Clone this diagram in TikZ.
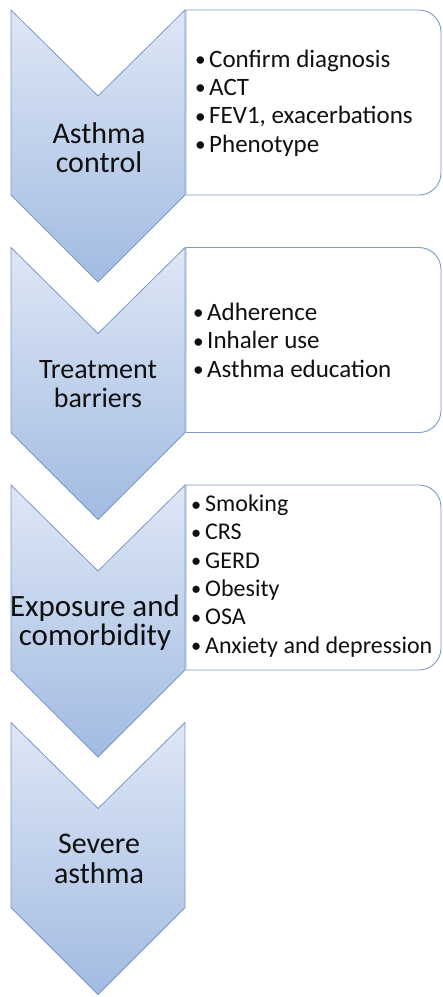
\documentclass[tikz,border=0pt]{standalone}
\usepackage{fontspec}
\setmainfont{Carlito}
\definecolor{chevline}{HTML}{7C98C8}
\definecolor{chevtop}{HTML}{DEE7F5}
\definecolor{chevbot}{HTML}{A2BBE2}
\definecolor{boxline}{HTML}{7E9BC8}
\definecolor{ink}{HTML}{101010}
\newcommand{\bul}{\makebox[13pt][l]{\hspace{-1pt}\raisebox{0.5pt}{\scalebox{0.85}{•}}}}
\newcommand{\chevron}[2]{%
  \path[chev] (11,#1) coordinate (#2tl) -- (98,#1+86) coordinate (#2n)
    -- (185,#1) coordinate (#2tr) -- (185,#1+185) coordinate (#2br)
    -- (98,#1+272) coordinate (#2tip) -- (11,#1+185) coordinate (#2bl) -- cycle;}
\newcommand{\infobox}[2]{%
  \path[infobox] (186,#1) -- (419,#1) arc[start angle=-90,end angle=0,radius=22]
    -- (441,#1+163) arc[start angle=0,end angle=90,radius=22] -- (186,#1+185) -- cycle;
  \coordinate (#2) at (186,#1);}
\begin{document}
\begin{tikzpicture}[x=1pt,y=-1pt,
  chev/.style={draw=chevline, line width=0.8pt, top color=chevtop, bottom color=chevbot},
  infobox/.style={draw=boxline, line width=0.9pt, fill=white},
  chevlabel/.style={align=center, text=ink, anchor=base, inner sep=0pt},
  bullets/.style={font=\fontsize{25}{28.3}\selectfont, align=left, text=ink, anchor=base west, inner sep=0pt}]
\useasboundingbox (0,0) rectangle (443,997);
\fill[white] (0,0) rectangle (443,997);
% stage 1
\chevron{10}{c1}
\infobox{10}{b1}
% stage 2
\chevron{247.5}{c2}
\infobox{247.5}{b2}
% stage 3
\chevron{485}{c3}
\infobox{485}{b3}
% stage 4
\chevron{722.5}{c4}
% labels (anchor base = last line baseline)
\node[chevlabel, font=\fontsize{30}{29}\selectfont] (l1) at (99,172) {Asthma\\control};
\node[chevlabel, font=\fontsize{28}{29}\selectfont] (l2) at (98,407) {Treatment\\barriers};
\node[chevlabel, font=\fontsize{31}{28.5}\selectfont] (l3) at (95,645) {Exposure and\\comorbidity};
\node[chevlabel, font=\fontsize{30}{30}\selectfont] (l4) at (99,883) {Severe\\asthma};
% bullets
\node[bullets] (t1) at (196,152) {\bul Confirm diagnosis\\\bul ACT\\\bul FEV1, exacerbations\\\bul Phenotype};
\node[bullets] (t2) at (194,377) {\bul Adherence\\\bul Inhaler use\\\bul Asthma education};
\node[bullets, font=\fontsize{24}{28.3}\selectfont] (t3) at (192,653) {\bul Smoking\\\bul CRS\\\bul GERD\\\bul Obesity\\\bul OSA\\\bul Anxiety and depression};
\end{tikzpicture}
\end{document}
